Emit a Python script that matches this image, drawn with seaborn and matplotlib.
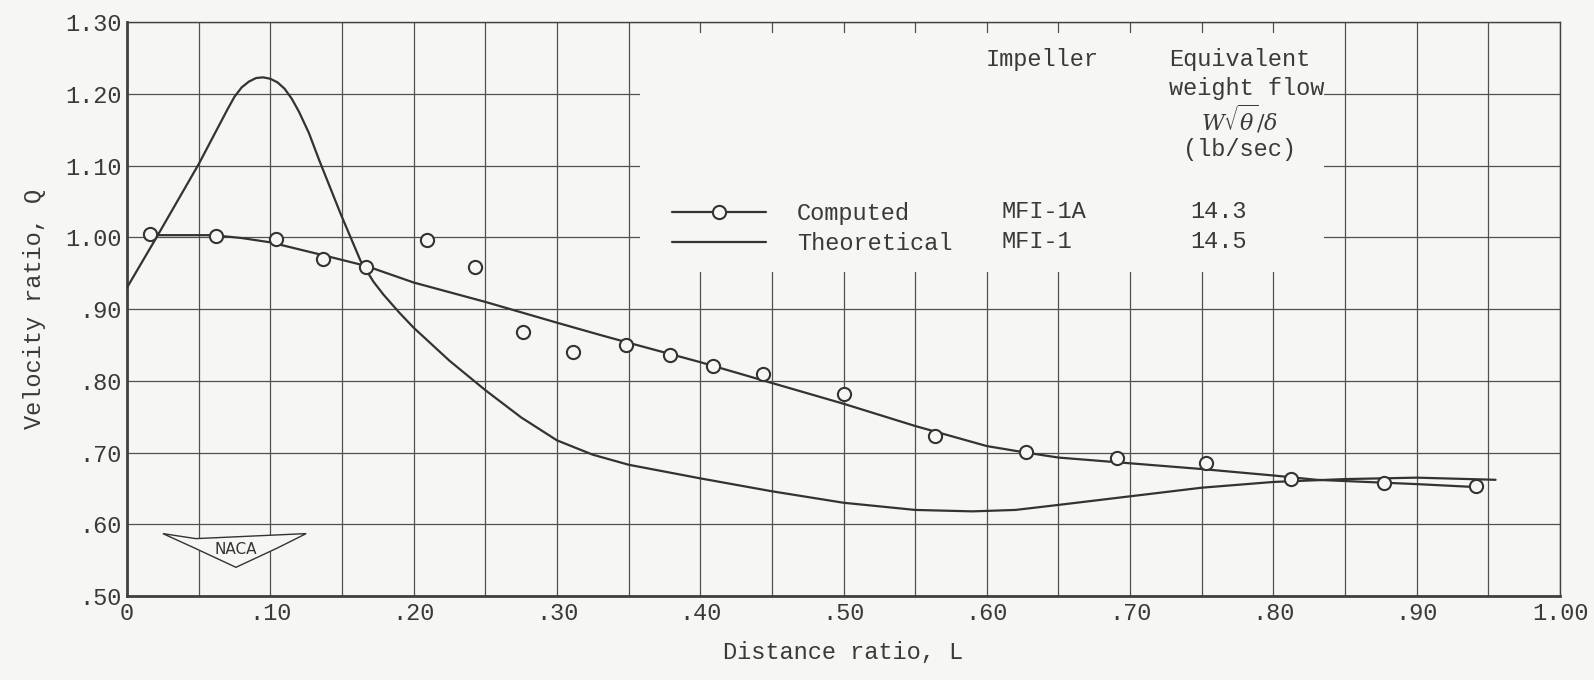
import seaborn as sns
import matplotlib.pyplot as plt
import pandas as pd
from matplotlib.patches import Rectangle, Polygon

# computed points (circles)
comp_pts_x = [0.016, 0.062, 0.104, 0.137, 0.167, 0.209, 0.243, 0.276, 0.311, 0.348, 0.379,
              0.409, 0.444, 0.500, 0.564, 0.627, 0.691, 0.753, 0.812, 0.877, 0.941]
comp_pts_y = [1.005, 1.002, 0.997, 0.970, 0.958, 0.996, 0.958, 0.868, 0.840, 0.850, 0.836,
              0.821, 0.810, 0.782, 0.723, 0.701, 0.692, 0.686, 0.663, 0.658, 0.654]

# faired curve through computed points
comp_line_x = [0.016, 0.06, 0.08, 0.10, 0.137, 0.167, 0.20, 0.25, 0.30, 0.33, 0.35, 0.40,
               0.443, 0.50, 0.55, 0.60, 0.627, 0.65, 0.70, 0.75, 0.80, 0.83, 0.90, 0.94]
comp_line_y = [1.003, 1.003, 0.999, 0.993, 0.975, 0.960, 0.937, 0.910, 0.881, 0.864, 0.853, 0.826,
               0.801, 0.768, 0.737, 0.709, 0.700, 0.693, 0.685, 0.677, 0.668, 0.662, 0.656, 0.652]

# theoretical curve
theo_x = [0.0, 0.02, 0.05, 0.06, 0.07, 0.075, 0.08, 0.085, 0.09, 0.095, 0.10, 0.105, 0.11,
          0.115, 0.12, 0.127, 0.134, 0.149, 0.163, 0.172, 0.179, 0.19, 0.20, 0.225, 0.25,
          0.275, 0.30, 0.325, 0.35, 0.40, 0.45, 0.50, 0.55, 0.59, 0.62, 0.65, 0.70, 0.75,
          0.80, 0.85, 0.90, 0.955]
theo_y = [0.930, 0.998, 1.102, 1.140, 1.178, 1.196, 1.209, 1.217, 1.222, 1.223, 1.221, 1.216, 1.207,
          1.193, 1.175, 1.145, 1.108, 1.033, 0.967, 0.938, 0.920, 0.895, 0.874, 0.828, 0.787,
          0.749, 0.717, 0.697, 0.683, 0.664, 0.646, 0.630, 0.620, 0.618, 0.620, 0.627, 0.639, 0.651,
          0.659, 0.663, 0.665, 0.662]

x_ticks = [0.0, 0.1, 0.2, 0.3, 0.4, 0.5, 0.6, 0.7, 0.8, 0.9, 1.0]
x_labels = ["0", ".10", ".20", ".30", ".40", ".50", ".60", ".70", ".80", ".90", "1.00"]
y_ticks = [0.5, 0.6, 0.7, 0.8, 0.9, 1.0, 1.1, 1.2, 1.3]
y_labels = [".50", ".60", ".70", ".80", ".90", "1.00", "1.10", "1.20", "1.30"]

series = ["Computed", "Theoretical"]
impellers = ["MFI-1A", "MFI-1"]
flows = ["14.3", "14.5"]
row_y = [1.036, 0.994]

bg = "#f6f6f4"
ink = "#333333"
tc = "#3a3a3a"

sns.set_style("white")
plt.rcParams["font.family"] = ["Liberation Mono", "DejaVu Sans Mono"]
plt.rcParams["mathtext.fontset"] = "dejavuserif"

fig = plt.figure(figsize=(15.94, 6.80), dpi=100, facecolor=bg)
ax = fig.add_axes([0.0797, 0.1235, 0.899, 0.844])
ax.set_facecolor(bg)

df_pts = pd.DataFrame({"L": comp_pts_x, "Q": comp_pts_y})
df_comp = pd.DataFrame({"L": comp_line_x, "Q": comp_line_y})
df_theo = pd.DataFrame({"L": theo_x, "Q": theo_y})

sns.lineplot(data=df_theo, x="L", y="Q", ax=ax, color=ink, lw=1.6, sort=False, zorder=3)
sns.lineplot(data=df_comp, x="L", y="Q", ax=ax, color=ink, lw=1.6, sort=False, zorder=3)
sns.scatterplot(data=df_pts, x="L", y="Q", ax=ax, s=90, facecolor=bg, edgecolor=ink,
                linewidth=1.5, zorder=4)

ax.set_xlim(0, 1.0)
ax.set_ylim(0.5, 1.3)
ax.set_xticks(x_ticks)
ax.set_xticklabels(x_labels)
ax.set_xticks([i * 0.05 for i in range(21)], minor=True)
ax.set_yticks(y_ticks)
ax.set_yticklabels(y_labels)
ax.set_axisbelow(True)
ax.grid(True, which="both", color="#505050", lw=0.9)
ax.tick_params(which="both", length=0, labelsize=17, labelcolor=tc, pad=4)
for s in ax.spines.values():
    s.set_color("#404040")
    s.set_linewidth(1.0)
ax.spines["left"].set_linewidth(2.0)
ax.spines["bottom"].set_linewidth(2.0)

ax.set_xlabel("Distance ratio, L", fontsize=17, color=tc, labelpad=12)
ax.set_ylabel("Velocity ratio, Q", fontsize=17, color=tc, labelpad=14)

# blank area behind the key
ax.add_patch(Rectangle((0.358, 0.951), 0.477, 0.334, facecolor=bg, edgecolor="none", zorder=1))

# key
comp_handle = plt.Line2D([], [], color=ink, lw=1.6, marker="o", markersize=9.5,
                         markerfacecolor=bg, markeredgecolor=ink, markeredgewidth=1.5)
theo_handle = plt.Line2D([], [], color=ink, lw=1.6)
leg = ax.legend([comp_handle, theo_handle], series, loc="upper left",
                bbox_to_anchor=(0.372, 1.066), bbox_transform=ax.transData,
                frameon=False, fontsize=17, handlelength=4.0, handletextpad=1.3,
                labelspacing=0.3, borderpad=0)
for t in leg.get_texts():
    t.set_color(tc)
for name, val, yy in zip(impellers, flows, row_y):
    ax.text(0.610, yy, name, fontsize=17, color=tc, ha="left", va="center", zorder=5)
    ax.text(0.762, yy, val, fontsize=17, color=tc, ha="center", va="center", zorder=5)

ax.text(0.599, 1.248, "Impeller", fontsize=17, color=tc, ha="left", va="center", zorder=5)
ax.text(0.727, 1.248, "Equivalent", fontsize=17, color=tc, ha="left", va="center", zorder=5)
ax.text(0.727, 1.207, "weight flow", fontsize=17, color=tc, ha="left", va="center", zorder=5)
ax.text(0.776, 1.165, r"$W\sqrt{\theta}/\delta$", fontsize=16, color=tc, ha="center", va="center", zorder=5)
ax.text(0.776, 1.122, "(lb/sec)", fontsize=17, color=tc, ha="center", va="center", zorder=5)

# NACA badge
ax.add_patch(Polygon([(0.025, 0.587), (0.048, 0.580), (0.125, 0.587), (0.105, 0.567),
                      (0.076, 0.540), (0.047, 0.567)], closed=True, facecolor=bg,
                     edgecolor=ink, lw=1.0, zorder=5))
ax.text(0.076, 0.565, "NACA", fontsize=11, family="DejaVu Sans", color=ink,
        ha="center", va="center", zorder=6)

plt.savefig("out.png", dpi=100, facecolor=bg)
